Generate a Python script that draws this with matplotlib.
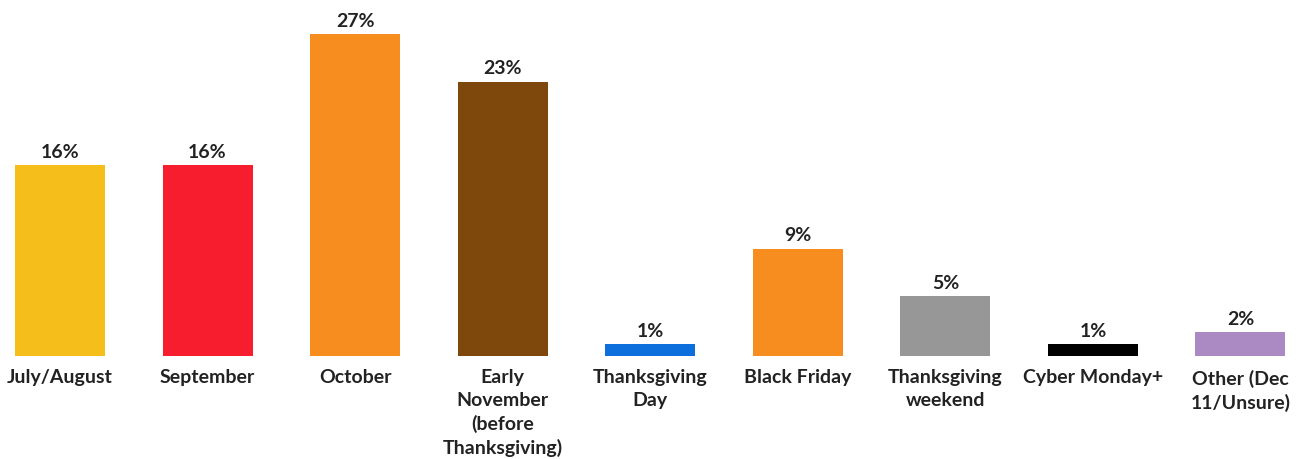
import matplotlib.pyplot as plt
import numpy as np

# Quand les acheteurs commencent leurs achats des fêtes
periods = ['July/August', 'September', 'October',
           'Early\nNovember\n(before\nThanksgiving)', 'Thanksgiving\nDay',
           'Black Friday', 'Thanksgiving\nweekend', 'Cyber Monday+',
           'Other (Dec\n11/Unsure)']
shares = [16, 16, 27, 23, 1, 9, 5, 1, 2]
colors = ['#F5BE1B', '#F71D2F', '#F78D1E', '#7E470C', '#0C6FDB',
          '#F78D1E', '#979797', '#000000', '#AB8AC4']

plt.rcParams['font.family'] = ['Lato', 'DejaVu Sans']

fig = plt.figure(figsize=(13.06, 4.6), dpi=100)
ax = fig.add_axes([0, 103 / 460, 1, 357 / 460])

x = np.arange(len(shares))
bars = ax.bar(x, shares, width=0.61, color=colors)

for b, v in zip(bars, shares):
    ax.text(b.get_x() + b.get_width() / 2, v + 0.45, f'{v}%',
            ha='center', va='bottom', fontsize=14, fontweight='bold',
            color='#222222')

ax.set_xticks(x)
ax.set_xticklabels(periods, fontsize=14, fontweight='bold',
                   color='#222222', linespacing=1.4)
ax.tick_params(axis='x', length=0, pad=9)
ax.set_yticks([])
ax.set_xlim(-0.4066, 8.444)
ax.set_ylim(0, 29.93)
for s in ax.spines.values():
    s.set_visible(False)

plt.savefig('out.png', dpi=100)
plt.close()
